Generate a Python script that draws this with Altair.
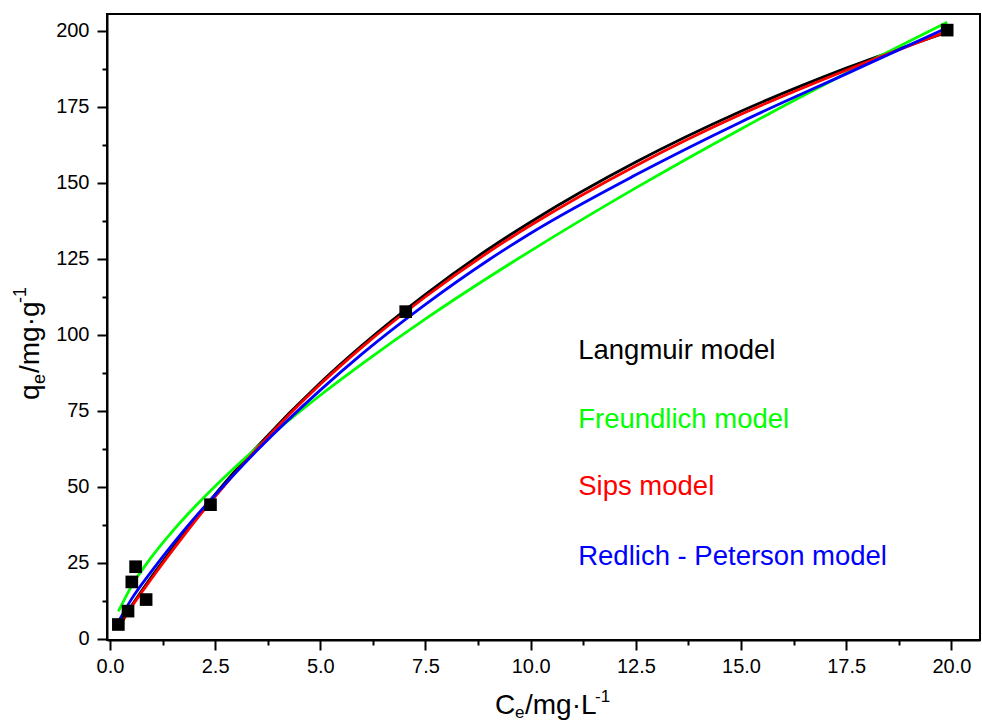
import altair as alt
import pandas as pd

# Experimental points
C_exp = [0.20, 0.43, 0.52, 0.61, 0.86, 2.39, 7.03, 19.9]
q_exp = [4.7, 9.1, 18.7, 23.7, 12.9, 44.1, 107.6, 200.2]

# Model curves
C_fit = [0.2, 0.5, 1, 1.5, 2, 2.5, 3.5, 5, 6, 7.5, 9, 10, 12.5, 15, 17.5, 19.9]
q_langmuir = [4.3, 10.6, 20.6, 30.0, 39.0, 47.5, 63.2, 84.2, 96.6, 113.3, 128.2, 137.1, 156.8, 173.5, 187.7, 199.5]
q_freundlich = [9.0, 17.0, 27.1, 35.6, 43.2, 50.2, 63.0, 80.1, 90.5, 105.2, 118.9, 127.6, 148.3, 167.7, 186.0, 202.8]
q_sips = [3.5, 10.2, 20.0, 29.3, 38.3, 46.8, 62.6, 83.7, 96.0, 112.5, 127.2, 136.0, 155.6, 172.5, 187.0, 199.8]
q_rp = [5.6, 12.8, 22.4, 31.3, 39.6, 47.3, 62.0, 81.8, 93.8, 110.0, 124.6, 133.4, 152.6, 170.0, 185.8, 201.0]

model_keys = ["langmuir", "freundlich", "sips", "rp"]
model_names = ["Langmuir model", "Freundlich model", "Sips model", "Redlich - Peterson model"]
model_colors = ["#000000", "#00ff00", "#ff0000", "#0000ff"]
label_x = [11.13, 11.13, 11.13, 11.13]
label_y = [92.0, 69.3, 47.2, 24.4]

x_ticks = [i * 1.25 for i in range(17)]
y_ticks = [i * 12.5 for i in range(17)]

FONT = "Liberation Sans"

df_exp = pd.DataFrame({"C": C_exp, "q": q_exp})
df_fit = pd.DataFrame({"C": C_fit, "langmuir": q_langmuir, "freundlich": q_freundlich,
                       "sips": q_sips, "rp": q_rp})
df_lab = pd.DataFrame({"name": model_names, "x": label_x, "y": label_y})

xscale = alt.Scale(domain=[-0.07, 20.68], nice=False, zero=False)
yscale = alt.Scale(domain=[-0.4, 205.5], nice=False, zero=False)

xaxis = alt.Axis(
    values=x_ticks,
    labelExpr="datum.value % 2.5 === 0 ? format(datum.value, '.1f') : ''",
    tickSize={"condition": {"test": "datum.value % 2.5 === 0", "value": 10}, "value": 5},
    title=None, grid=False, labelOverlap=False, labelFlush=False, labelPadding=6,
)
yaxis = alt.Axis(
    values=y_ticks,
    labelExpr="datum.value % 25 === 0 ? format(datum.value, 'd') : ''",
    tickSize={"condition": {"test": "datum.value % 25 === 0", "value": 10}, "value": 5},
    title=None, grid=False, labelOverlap=False, labelFlush=False, labelPadding=8,
)

layers = []
for key, col in zip(model_keys, model_colors):
    layers.append(
        alt.Chart(df_fit).mark_line(color=col, strokeWidth=2.8, interpolate="monotone").encode(
            x=alt.X("C:Q", scale=xscale, axis=xaxis),
            y=alt.Y(f"{key}:Q", scale=yscale, axis=yaxis),
        )
    )

points = alt.Chart(df_exp).mark_point(shape="square", filled=True, size=160, color="black", opacity=1).encode(
    x=alt.X("C:Q", scale=xscale, axis=xaxis),
    y=alt.Y("q:Q", scale=yscale, axis=yaxis),
)

labels = alt.Chart(df_lab).mark_text(align="left", baseline="alphabetic", fontSize=27.5, font=FONT).encode(
    x=alt.X("x:Q", scale=xscale, axis=xaxis),
    y=alt.Y("y:Q", scale=yscale, axis=yaxis),
    text="name:N",
    color=alt.Color("name:N", scale=alt.Scale(domain=model_names, range=model_colors), legend=None),
)


def txt(s, x, y, size, angle=0):
    return alt.Chart(pd.DataFrame({"t": [s]})).mark_text(
        text=s, align="left", baseline="alphabetic", fontSize=size, angle=angle,
        font=FONT, color="black"
    ).encode(x=alt.value(x), y=alt.value(y))


# x-axis title: C_e/mg·L^-1
xt = [
    txt("C", 388, 700, 28),
    txt("e", 408, 704, 17),
    txt("/mg·L", 418, 700, 28),
    txt("-1", 488, 688, 17),
]
# y-axis title: q_e/mg·g^-1 (rotated)
yt = [
    txt("q", -68.5, 386, 28, 270),
    txt("e", -62.5, 370, 18, 270),
    txt("/mg·g", -68.5, 359, 28, 270),
    txt("-1", -81.5, 289, 18, 270),
]

chart = alt.layer(*layers, points, labels, *xt, *yt).properties(
    width=873, height=626,
    autosize=alt.AutoSizeParams(type="none"),
    padding={"left": 107, "top": 14, "right": 2, "bottom": 82},
    background="white",
).configure_view(
    stroke="black", strokeWidth=2
).configure_axis(
    domainColor="black", domainWidth=2, tickColor="black", tickWidth=2,
    labelFont=FONT, labelFontSize=20, labelColor="black",
)

chart.save("out.html", embed_options={"renderer": "svg", "actions": False})
